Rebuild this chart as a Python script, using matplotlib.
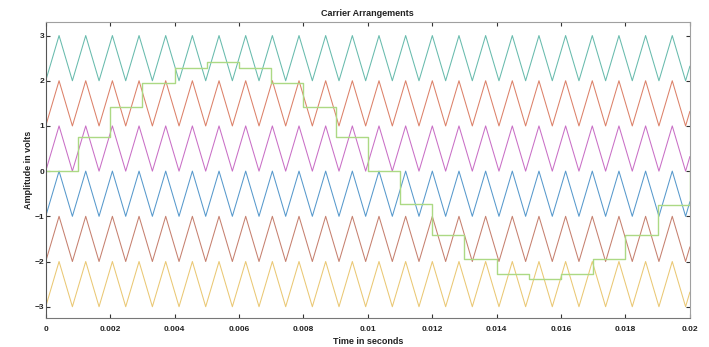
import numpy as np
import matplotlib
matplotlib.use("Agg")
from matplotlib import pyplot as plt

plt.rcParams["font.family"] = ["Liberation Sans", "DejaVu Sans"]

# ------------------- #
# Data

# carrier bands: lower edge of each triangular carrier (band height = 1)
carrier_low = [2, 1, 0, -1, -2, -3]
carrier_colors = ["#68bbad", "#dc8169", "#c96fc6", "#5799cc", "#c6806f", "#eac874"]
carrier_freq = 1208.0  # Hz, read from peak spacing

# staircase reference, held for 1 ms each
step_times = [0.000, 0.001, 0.002, 0.003, 0.004, 0.005, 0.006, 0.007, 0.008, 0.009, 0.010,
              0.011, 0.012, 0.013, 0.014, 0.015, 0.016, 0.017, 0.018, 0.019, 0.020]
step_values = [0.0, 0.75, 1.42, 1.95, 2.28, 2.41, 2.28, 1.96, 1.42, 0.75, 0.0,
               -0.73, -1.41, -1.94, -2.28, -2.39, -2.28, -1.94, -1.41, -0.74, 0.0]
step_color = "#acd984"

xticks = [0, 0.002, 0.004, 0.006, 0.008, 0.01, 0.012, 0.014, 0.016, 0.018, 0.02]
xtick_labels = ["0", "0.002", "0.004", "0.006", "0.008", "0.01", "0.012",
                "0.014", "0.016", "0.018", "0.02"]
yticks = [-3, -2, -1, 0, 1, 2, 3]

t_end = 0.02

# ------------------- #
# Figure

fig = plt.figure(figsize=(7.09, 3.47), dpi=100)
ax = fig.add_axes([0.0645, 0.0836, 0.9085, 0.853])

# triangle vertices (trough at t=0, peak half a period later)
half = 0.5 / carrier_freq
vt = np.arange(0, t_end + 2 * half, half)
tt = np.append(vt[vt < t_end], t_end)
for low, color in zip(carrier_low, carrier_colors):
    vy = low + (np.arange(len(vt)) % 2)
    ax.plot(tt, np.interp(tt, vt, vy), color=color, lw=0.75)

ax.plot(step_times, step_values, drawstyle="steps-post", color=step_color, lw=1.0)

ax.set_xlim(0, t_end)
ax.set_ylim(-3.25, 3.3)
ax.set_xticks(xticks)
ax.set_xticklabels(xtick_labels)
ax.set_yticks(yticks)

for side in ax.spines.values():
    side.set_color("#a0a0a0")
    side.set_linewidth(0.8)
ax.spines["left"].set_color("#555555")
ax.spines["bottom"].set_color("#777777")
ax.tick_params(direction="in", length=3, width=0.8, color="#333333",
               labelsize=6, labelcolor="#222222", top=True, right=True)
ax.tick_params(axis="x", pad=6)
ax.tick_params(axis="y", pad=1)
for lab in ax.get_xticklabels() + ax.get_yticklabels():
    lab.set_fontweight("bold")

ax.set_title("Carrier Arrangements", fontsize=6.5, fontweight="bold", color="#222222", pad=4)
ax.set_xlabel("Time in seconds", fontsize=6.5, fontweight="bold", color="#222222", labelpad=3)
ax.set_ylabel("Amplitude in volts", fontsize=6.5, fontweight="bold", color="#222222", labelpad=1)

fig.savefig("out.png", dpi=100)
